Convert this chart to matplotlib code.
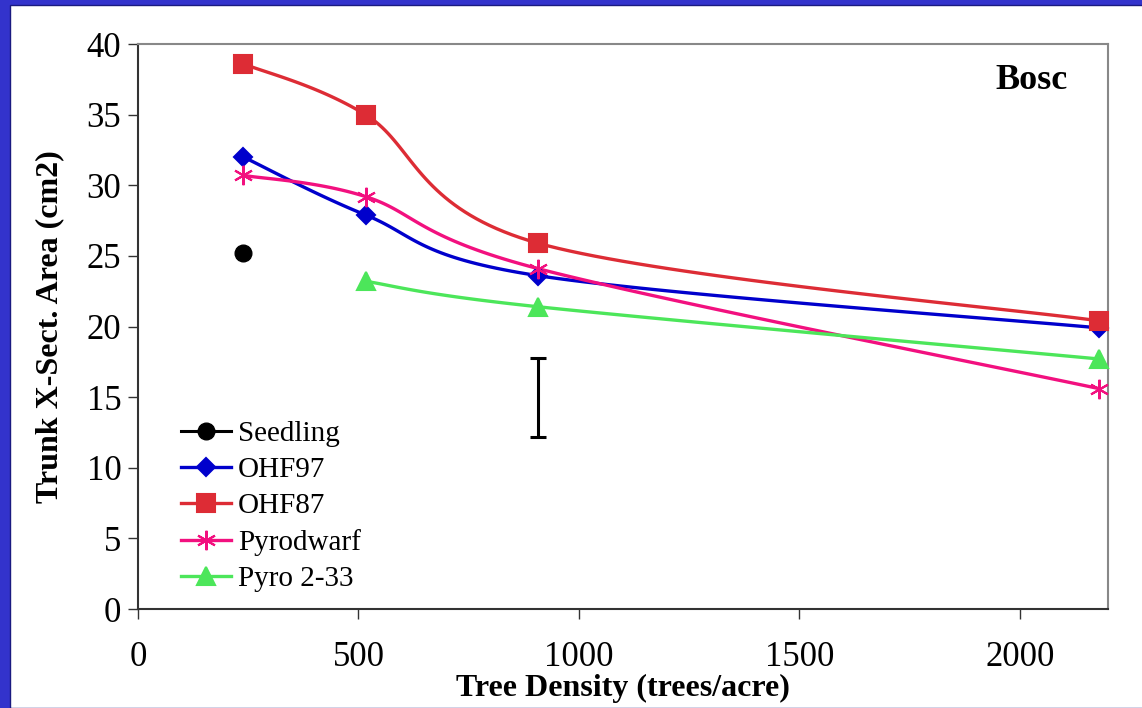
import numpy as np
import matplotlib
matplotlib.use("Agg")
import matplotlib.pyplot as plt
from matplotlib.patches import Rectangle

# tree density (trees/acre)
density = [239, 516, 907, 2180]

seedling_x = [239]
seedling_y = [25.2]
ohf97 = [32.0, 27.9, 23.6, 19.9]
ohf87 = [38.6, 35.0, 25.9, 20.4]
pyrodwarf = [30.7, 29.2, 24.1, 15.6]
pyro_x = [516, 907, 2180]
pyro233 = [23.2, 21.4, 17.7]

# LSD bar
lsd_x = 907
lsd_mid = 15.0
lsd_half = 2.8

plt.rcParams['font.family'] = ['Liberation Serif', 'DejaVu Serif']

W, H = 1142, 708
fig = plt.figure(figsize=(W / 100, H / 100), dpi=100, facecolor='#3333CC')
fig.patches.append(Rectangle((11 / W, 0), 1, 1 - 6 / H, transform=fig.transFigure,
                             facecolor='white', edgecolor='none', zorder=-2))
fig.patches.append(Rectangle((10 / W, 0), 1, 1 - 5 / H, transform=fig.transFigure,
                             facecolor='none', edgecolor='#1a1a80', lw=1, zorder=-1))

left, right, top, bottom = 138, 1108, 44, 609
ax = fig.add_axes([left / W, 1 - bottom / H, (right - left) / W, (bottom - top) / H])
ax.set_xlim(0, 2200)
ax.set_ylim(0, 40)


def smooth(xs, ys, n=40):
    # Excel-style smoothed line (Catmull-Rom in pixel space)
    sx = (right - left) / 2200.0
    sy = (bottom - top) / 40.0
    p = np.column_stack([np.array(xs) * sx, np.array(ys) * sy])
    pts = [p[0]]
    for i in range(len(p) - 1):
        p0 = p[i - 1] if i > 0 else p[i]
        p1, p2 = p[i], p[i + 1]
        p3 = p[i + 2] if i + 2 < len(p) else p[i + 1]
        c1 = p1 + (p2 - p0) / 6
        c2 = p2 - (p3 - p1) / 6
        t = np.linspace(0, 1, n)[1:, None]
        seg = (1 - t) ** 3 * p1 + 3 * (1 - t) ** 2 * t * c1 + 3 * (1 - t) * t ** 2 * c2 + t ** 3 * p2
        pts.extend(seg)
    pts = np.array(pts)
    return pts[:, 0] / sx, pts[:, 1] / sy


series = [
    ('OHF97', density, ohf97, '#0000CC', 'D', 9),
    ('OHF87', density, ohf87, '#DD2C35', 's', 13),
    ('Pyrodwarf', density, pyrodwarf, '#F2107F', (6, 2, 0), 14),
    ('Pyro 2-33', pyro_x, pyro233, '#4CE65A', '^', 13),
]

handles = []
h, = ax.plot(seedling_x, seedling_y, color='black', lw=2.2, marker='o', ms=12,
             label='Seedling', clip_on=False, zorder=5)
handles.append(h)
for name, xs, ys, col, mk, ms in series:
    lx, ly = smooth(xs, ys)
    ax.plot(lx, ly, color=col, lw=2.4, zorder=3, clip_on=False)
    ax.plot(xs, ys, ls='none', marker=mk, ms=ms, color=col, mew=1.5,
            zorder=4, clip_on=False)
    h, = ax.plot([], [], color=col, lw=2.4, marker=mk, ms=ms, mew=1.5, label=name)
    handles.append(h)

ax.errorbar([lsd_x], [lsd_mid], yerr=[lsd_half], fmt='none', ecolor='black',
            elinewidth=2.2, capsize=6, capthick=2.2, zorder=3)

ax.legend(handles=handles, loc='lower left',
          bbox_to_anchor=((181 - left) / (right - left), 0.03),
          frameon=False, fontsize=21, handlelength=1.7, handletextpad=0.25,
          labelspacing=0.33, borderaxespad=0, borderpad=0)

for s in ['top', 'right']:
    ax.spines[s].set_color('#888888')
    ax.spines[s].set_linewidth(1.5)
for s in ['left', 'bottom']:
    ax.spines[s].set_color('#333333')
    ax.spines[s].set_linewidth(1.5)

ax.set_xticks(np.arange(0, 2001, 500))
ax.set_yticks(np.arange(0, 41, 5))
ax.tick_params(axis='both', labelsize=25, direction='out', length=7, width=1,
               color='#333333', pad=5)
ax.tick_params(axis='x', pad=16)

ax.set_xlabel('Tree Density (trees/acre)', fontsize=23, fontweight='bold', labelpad=0)
ax.set_ylabel('Trunk X-Sect. Area (cm2)', fontsize=23, fontweight='bold', labelpad=16)
ax.text(0.958, 0.936, 'Bosc', transform=ax.transAxes, ha='right', va='center',
        fontsize=26, fontweight='bold')

fig.savefig('out.png', dpi=100, facecolor=fig.get_facecolor())
